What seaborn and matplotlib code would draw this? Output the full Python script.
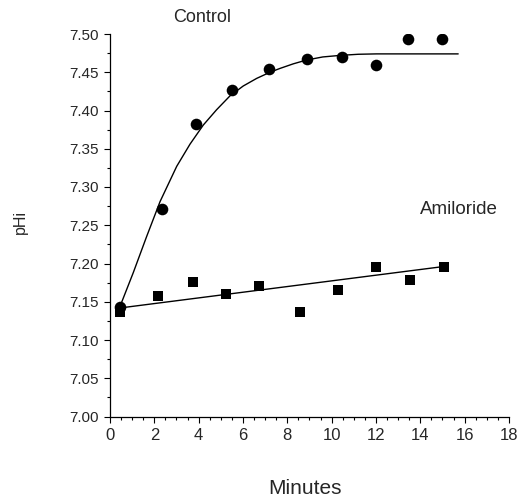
import matplotlib
matplotlib.use("Agg")
import matplotlib.pyplot as plt
from matplotlib.ticker import MultipleLocator
import seaborn as sns
import pandas as pd

# Intracellular pH recovery over time
control_min = [0.45, 2.33, 3.87, 5.52, 7.17, 8.87, 10.48, 11.98, 13.46, 14.96]
control_phi = [7.143, 7.271, 7.382, 7.427, 7.454, 7.467, 7.470, 7.459, 7.493, 7.494]

amiloride_min = [0.45, 2.18, 3.76, 5.22, 6.74, 8.57, 10.27, 11.99, 13.53, 15.07]
amiloride_phi = [7.136, 7.157, 7.176, 7.160, 7.171, 7.136, 7.166, 7.196, 7.178, 7.196]

# Fitted curves
control_fit_min = [0.40, 1.05, 1.65, 2.26, 3.01, 3.61, 4.21, 4.81, 5.41, 6.01,
                   6.62, 7.22, 7.67, 8.27, 8.87, 9.60, 10.37, 11.20, 12.03, 15.71]
control_fit_phi = [7.140, 7.188, 7.235, 7.281, 7.327, 7.356, 7.381, 7.401, 7.419,
                   7.432, 7.442, 7.450, 7.455, 7.461, 7.466, 7.470, 7.472, 7.4735,
                   7.474, 7.474]

amiloride_fit_min = [0.38, 15.04]
amiloride_fit_phi = [7.1416, 7.196]

x_ticks = [0, 2, 4, 6, 8, 10, 12, 14, 16, 18]
y_ticks = [7.00, 7.05, 7.10, 7.15, 7.20, 7.25, 7.30, 7.35, 7.40, 7.45, 7.50]

sns.set_style("ticks")
plt.rcParams["font.family"] = ["Liberation Sans", "DejaVu Sans"]

fig = plt.figure(figsize=(5.22, 5.0), dpi=100)
ax = fig.add_axes([0.2107, 0.167, 0.7643, 0.765])

ctrl_fit = pd.DataFrame({"t": control_fit_min, "phi": control_fit_phi})
amil_fit = pd.DataFrame({"t": amiloride_fit_min, "phi": amiloride_fit_phi})
ctrl = pd.DataFrame({"t": control_min, "phi": control_phi})
amil = pd.DataFrame({"t": amiloride_min, "phi": amiloride_phi})

sns.lineplot(data=ctrl_fit, x="t", y="phi", ax=ax, color="black", lw=1.0,
             sort=False, estimator=None)
sns.lineplot(data=amil_fit, x="t", y="phi", ax=ax, color="black", lw=1.0,
             sort=False, estimator=None)
sns.scatterplot(data=ctrl, x="t", y="phi", ax=ax, marker="o", s=70,
                color="black", edgecolor="black", linewidth=0, zorder=3)
sns.scatterplot(data=amil, x="t", y="phi", ax=ax, marker="s", s=60,
                color="black", edgecolor="black", linewidth=0, zorder=3)

ax.set_xlim(0, 18)
ax.set_ylim(7.00, 7.50)
ax.set_xticks(x_ticks)
ax.set_yticks(y_ticks)
ax.set_xticklabels([str(v) for v in x_ticks], fontsize=12)
ax.set_yticklabels([f"{v:.2f}" for v in y_ticks], fontsize=11)
ax.xaxis.set_minor_locator(MultipleLocator(0.5))
ax.yaxis.set_minor_locator(MultipleLocator(0.025))
ax.tick_params(which="major", direction="out", length=4, width=0.8,
               color="black", pad=4)
ax.tick_params(which="minor", direction="out", length=2.5, width=0.8,
               color="black")

for side in ("top", "right"):
    ax.spines[side].set_visible(False)
for side in ("left", "bottom"):
    ax.spines[side].set_linewidth(0.9)
    ax.spines[side].set_color("black")

ax.set_xlabel("")
ax.set_ylabel("")
fig.text(305 / 522, 1 - 489 / 500, "Minutes", ha="center", va="center",
         fontsize=15)
fig.text(20 / 522, 1 - 222 / 500, "pHi", ha="center", va="center",
         rotation=90, fontsize=11.5)
ax.text(4.15, 7.5216, "Control", ha="center", va="center", fontsize=13,
        clip_on=False)
ax.text(15.74, 7.270, "Amiloride", ha="center", va="center", fontsize=13.5,
        clip_on=False)

fig.savefig("out.png", dpi=100, facecolor="white")
